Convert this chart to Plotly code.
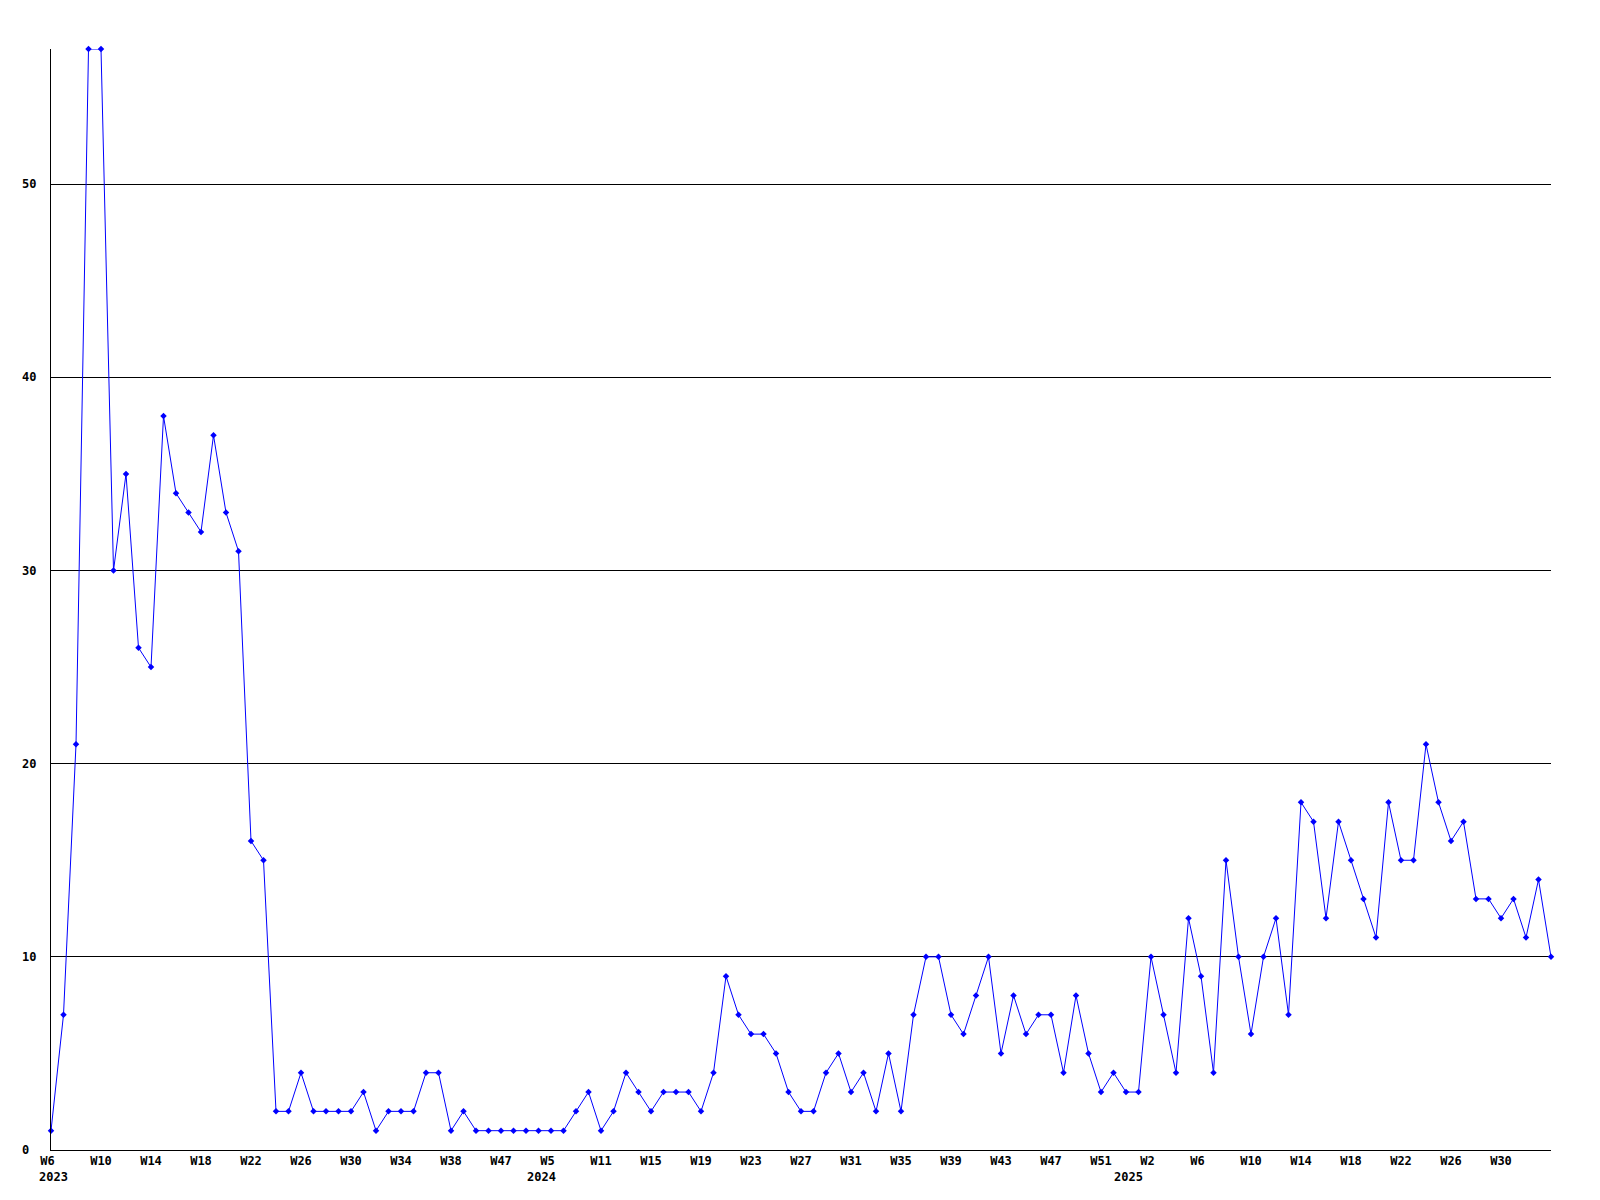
import plotly.graph_objects as go

# weekly counts, one per plotted week (121 points, evenly spaced)
values = [
    1, 7, 21, 57, 57, 30, 35, 26, 25, 38,
    34, 33, 32, 37, 33, 31, 16, 15, 2, 2,
    4, 2, 2, 2, 2, 3, 1, 2, 2, 2,
    4, 4, 1, 2, 1, 1, 1, 1, 1, 1,
    1, 1, 2, 3, 1, 2, 4, 3, 2, 3,
    3, 3, 2, 4, 9, 7, 6, 6, 5, 3,
    2, 2, 4, 5, 3, 4, 2, 5, 2, 7,
    10, 10, 7, 6, 8, 10, 5, 8, 6, 7,
    7, 4, 8, 5, 3, 4, 3, 3, 10, 7,
    4, 12, 9, 4, 15, 10, 6, 10, 12, 7,
    18, 17, 12, 17, 15, 13, 11, 18, 15, 15,
    21, 18, 16, 17, 13, 13, 12, 13, 11, 14,
    10,
]
x_index = list(range(len(values)))

# week labels shown every 4th point
week_tick_labels = [
    "W6", "W10", "W14", "W18", "W22", "W26", "W30", "W34", "W38", "W47",
    "W5", "W11", "W15", "W19", "W23", "W27", "W31", "W35", "W39", "W43",
    "W47", "W51", "W2", "W6", "W10", "W14", "W18", "W22", "W26", "W30",
]
tick_step = 4
tick_positions = [i * tick_step for i in range(len(week_tick_labels))]

# year labels and the index of the week where each year starts
year_labels = ["2023", "2024", "2025"]
year_start_index = [0, 39, 86]

y_ticks = [0, 10, 20, 30, 40, 50]

FONT = "DejaVu Sans Mono"
FS = 12

fig = go.Figure()
fig.add_trace(go.Scatter(
    x=x_index, y=values, mode="lines+markers",
    line=dict(color="#0000ff", width=1),
    marker=dict(symbol="diamond", size=5, color="#0000ff"),
    cliponaxis=False, showlegend=False, hoverinfo="x+y",
))

annotations = []
for yv in y_ticks:
    annotations.append(dict(
        x=0, xref="paper", y=yv, yref="y", text=f"<b>{yv}</b>",
        xanchor="left", yanchor="middle", xshift=-31, showarrow=False,
        font=dict(family=FONT, size=FS, color="black"),
    ))
for lbl, idx in zip(year_labels, year_start_index):
    annotations.append(dict(
        x=idx, xref="x", y=0, yref="y", text=f"<b>{lbl}</b>",
        xanchor="left", yanchor="middle", xshift=-14, yshift=-27, showarrow=False,
        font=dict(family=FONT, size=FS, color="black"),
    ))

fig.update_layout(
    width=1600, height=1200,
    margin=dict(l=43, r=57, t=41, b=58),
    paper_bgcolor="white", plot_bgcolor="white",
    xaxis=dict(
        range=[0, len(values) - 1], tickmode="array", tickvals=tick_positions,
        ticktext=[f"<b>{t if len(t) > 2 else t + chr(160)}</b>" for t in week_tick_labels],
        showgrid=False, zeroline=False, showline=True, linecolor="black", linewidth=1,
        ticks="", tickfont=dict(family=FONT, size=FS, color="black"),
    ),
    yaxis=dict(
        range=[0, 57], tickmode="array", tickvals=y_ticks[1:],
        showticklabels=False, showgrid=True, gridcolor="black", gridwidth=1,
        zeroline=False, showline=True, linecolor="black", linewidth=1, ticks="",
    ),
    annotations=annotations,
)

fig.write_html("out.html")
